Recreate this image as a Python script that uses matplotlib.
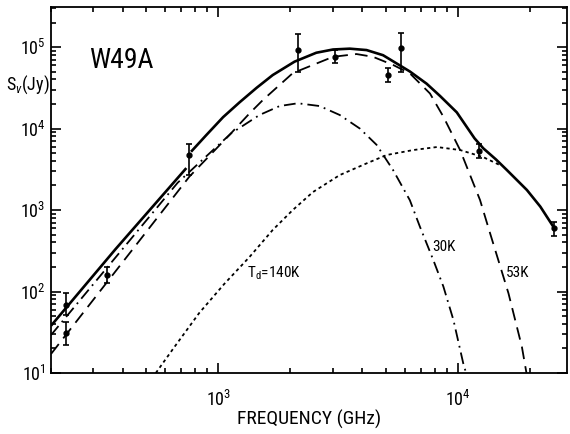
import matplotlib
matplotlib.use("Agg")
import matplotlib.pyplot as plt
from matplotlib.ticker import LogLocator, NullFormatter

# --- Data ---

# measured flux densities with error bars
obs_freq = [231, 231, 344, 757, 2150, 3060, 5090, 5780, 12300, 25200]
obs_flux = [68, 31, 160, 4730, 93000, 76000, 45300, 98000, 5350, 607]
obs_lo = [52, 22, 127, 2700, 50000, 63000, 37500, 50000, 4370, 479]
obs_hi = [96, 42, 200, 6450, 143000, 91000, 55700, 147000, 6400, 718]

# total fit (solid), drawn in two pieces with a step near 760 GHz
total_lo_freq = [200, 372, 735]
total_lo_flux = [38, 331, 3270]
total_hi_freq = [769, 891, 1047, 1225, 1445, 1687, 2080, 2565, 3013, 3540, 4160,
                 4875, 5546, 6310, 7413, 8433, 9908, 11750, 12790, 14450, 16030,
                 19450, 22130, 25230]
total_hi_flux = [5190, 8320, 13800, 20900, 31600, 45300, 66100, 85100, 93300, 95500,
                 91800, 79400, 63100, 50100, 35500, 25100, 15800, 7590, 5710, 4170,
                 3100, 1760, 1100, 607]

# 53 K component (dashed)
comp53_freq = [200, 757, 1112, 1349, 1535, 2046, 2483, 3013, 3776, 4426, 5370, 6310,
               7656, 8710, 10230, 11610, 12390, 13650, 16290, 18530, 19500]
comp53_flux = [17.1, 2570, 8320, 15310, 22390, 47860, 60260, 75860, 82040, 75860,
               60260, 47530, 26920, 13960, 5445, 2138, 1327, 518, 95, 21, 8.9]

# 30 K component (dash-dot)
comp30_freq = [200, 676, 891, 1130, 1486, 1803, 2148, 2649, 3214, 3899, 4581, 5370,
               6310, 6950, 7907, 8710, 9594, 10540, 10960]
comp30_flux = [29.2, 2160, 4570, 8710, 14660, 18880, 20420, 18880, 14660, 10000, 6310,
               3090, 1318, 624, 243, 115, 44.7, 13.2, 8.9]

# 140 K component (dotted)
comp140_freq = [548, 655, 832, 1059, 1349, 1687, 2046, 2483, 3214, 4159, 5047, 6516,
                8185, 10230, 12760, 15030]
comp140_flux = [10, 20.8, 54.5, 124, 265, 569, 1000, 1660, 2685, 3733, 4732, 5445,
                5929, 5445, 4467, 3548]

# --- Style ---
FONTS = ["Roboto Condensed", "Liberation Sans Narrow", "DejaVu Sans"]
plt.rcParams["font.family"] = FONTS
plt.rcParams["mathtext.fontset"] = "custom"
plt.rcParams["mathtext.rm"] = "Roboto Condensed"
plt.rcParams["mathtext.it"] = "Roboto Condensed:italic"

fig = plt.figure(figsize=(5.7, 4.34), dpi=100)
ax = fig.add_axes([51 / 570, 61 / 434, 516 / 570, 366 / 434])

ax.plot(total_lo_freq, total_lo_flux, color="black", lw=1.9, solid_capstyle="butt")
ax.plot(total_hi_freq, total_hi_flux, color="black", lw=1.9, solid_capstyle="butt")
ax.plot(comp53_freq, comp53_flux, color="black", lw=1.3, dashes=(7, 4))
ax.plot(comp30_freq, comp30_flux, color="black", lw=1.3, dashes=(6.5, 2.8, 1, 2.8))
ax.plot(comp140_freq, comp140_flux, color="black", lw=1.3, dashes=(1.8, 1.8))

yerr = [[f - lo for f, lo in zip(obs_flux, obs_lo)],
        [hi - f for f, hi in zip(obs_flux, obs_hi)]]
ax.errorbar(obs_freq, obs_flux, yerr=yerr, fmt="o", color="black", ms=3.5,
            elinewidth=1.2, capsize=2.5, capthick=1.2)

ax.set_xscale("log")
ax.set_yscale("log")
ax.set_xlim(200, 28600)
ax.set_ylim(10, 3.1e5)

ax.xaxis.set_major_locator(LogLocator(base=10))
ax.xaxis.set_minor_locator(LogLocator(base=10, subs=range(2, 10)))
ax.yaxis.set_minor_locator(LogLocator(base=10, subs=range(2, 10)))
ax.xaxis.set_minor_formatter(NullFormatter())
ax.yaxis.set_minor_formatter(NullFormatter())

ax.tick_params(which="both", direction="in", top=True, right=True, width=1.2,
               labelsize=13)
ax.tick_params(which="major", length=7)
ax.tick_params(which="minor", length=3.5)
ax.tick_params(axis="x", pad=12)
ax.tick_params(axis="y", pad=4)
for sp in ax.spines.values():
    sp.set_linewidth(1.3)

ax.set_xlabel("FREQUENCY (GHz)", fontsize=14, labelpad=0)
fig.text(6 / 570, 1 - 85 / 434, r"S$_{\nu}$(Jy)", fontsize=13, va="center", ha="left")

fig.text(121 / 570, 1 - 61 / 434, "W49A", fontsize=20, ha="center", va="center")
fig.text(247 / 570, 1 - 273 / 434, r"T$_{\mathrm{d}}$=140K", fontsize=11, ha="left", va="center")
fig.text(432 / 570, 1 - 247 / 434, "30K", fontsize=11, ha="left", va="center")
fig.text(506 / 570, 1 - 273 / 434, "53K", fontsize=11, ha="left", va="center")

fig.savefig("out.png", dpi=100)
